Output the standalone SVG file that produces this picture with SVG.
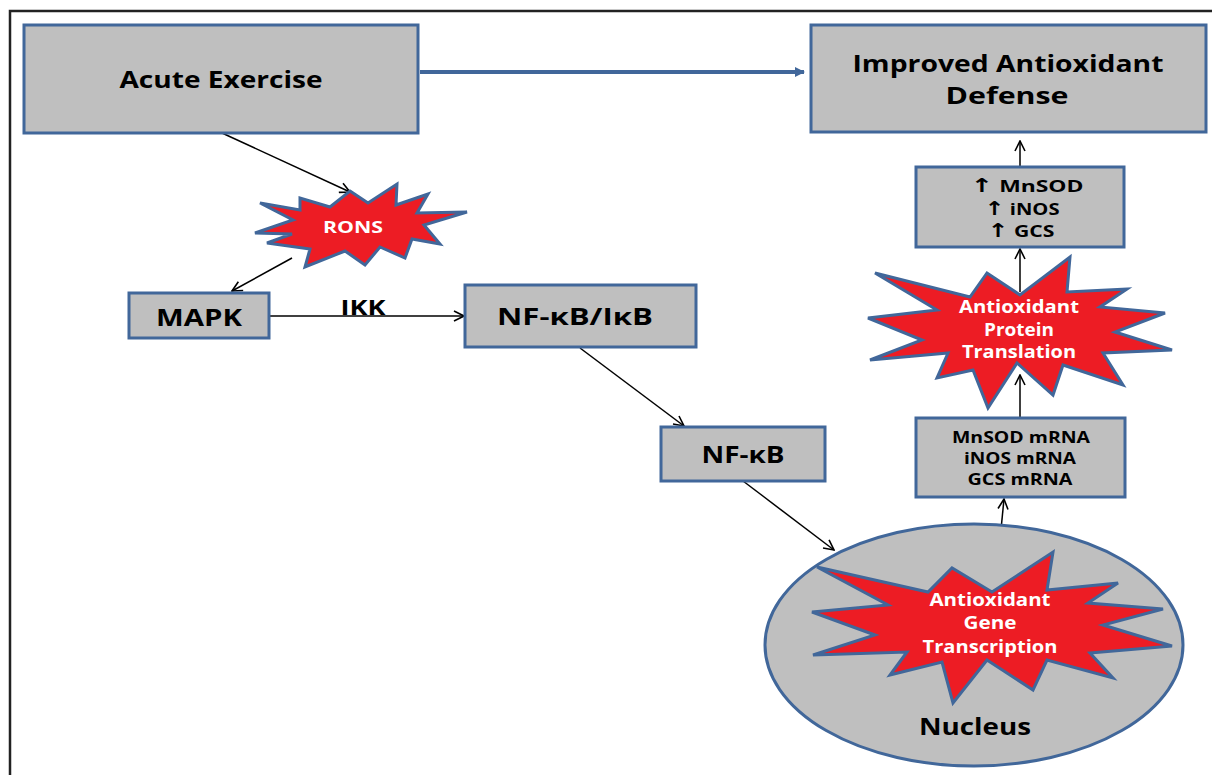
<svg xmlns="http://www.w3.org/2000/svg" width="1212" height="775" viewBox="0 0 1212 775">
<style>
.box{fill:#bfbfbf;stroke:#41679a;stroke-width:3}
.star{fill:#ed1c24;stroke:#41679a;stroke-width:3;stroke-linejoin:miter}
.t{font-family:"Open Sans","Liberation Sans",sans-serif;font-weight:bold;fill:#000;text-anchor:middle}
.w{font-family:"Open Sans","Liberation Sans",sans-serif;font-weight:bold;fill:#fff;text-anchor:middle}
.ar{font-family:"DejaVu Sans",sans-serif;font-weight:bold}
.c{stroke:#000;stroke-width:1.5;fill:none}
</style>
<defs>
<marker id="ah" viewBox="0 0 12 12" refX="11" refY="6" markerWidth="12" markerHeight="12" markerUnits="userSpaceOnUse" orient="auto">
<path d="M1,1 L11,6 L1,11" fill="none" stroke="#000" stroke-width="1.6"/>
</marker>
<marker id="bh" viewBox="0 0 10 10" refX="9" refY="5" markerWidth="10" markerHeight="10" markerUnits="userSpaceOnUse" orient="auto">
<path d="M0,0 L10,5 L0,10 Z" fill="#41679a"/>
</marker>
</defs>
<rect width="1212" height="775" fill="#fff"/>
<path d="M10,775 L10,11 L1212,11" fill="none" stroke="#222" stroke-width="2.5"/>

<g id="connectors">
<line x1="420" y1="72" x2="804" y2="72" stroke="#41679a" stroke-width="4" marker-end="url(#bh)"/>
<line class="c" x1="222" y1="133" x2="350" y2="192" marker-end="url(#ah)"/>
<line class="c" x1="292" y1="258" x2="232" y2="291" marker-end="url(#ah)"/>
<line class="c" x1="270" y1="316" x2="464" y2="316" marker-end="url(#ah)"/>
<line class="c" x1="580" y1="348" x2="684" y2="426" marker-end="url(#ah)"/>
<line class="c" x1="743" y1="481" x2="834" y2="550" marker-end="url(#ah)"/>
<line class="c" x1="998" y1="560" x2="1004" y2="499" marker-end="url(#ah)"/>
<line class="c" x1="1020" y1="418" x2="1020" y2="375" marker-end="url(#ah)"/>
<line class="c" x1="1020" y1="292" x2="1020" y2="249" marker-end="url(#ah)"/>
<line class="c" x1="1020" y1="167" x2="1020" y2="141" marker-end="url(#ah)"/>
</g>

<g id="acute-exercise">
<rect class="box" x="24" y="25" width="394" height="108"/>
<text class="t" x="221" y="88" font-size="23" textLength="203" lengthAdjust="spacingAndGlyphs">Acute Exercise</text>
</g>

<g id="improved-defense">
<rect class="box" x="811" y="25" width="395" height="107"/>
<text class="t" x="1008" y="72" font-size="23" textLength="311" lengthAdjust="spacingAndGlyphs">Improved Antioxidant</text>
<text class="t" x="1007" y="104" font-size="23" textLength="123" lengthAdjust="spacingAndGlyphs">Defense</text>
</g>

<g id="rons">
<polygon class="star" points="350,191 368,203 397,184 396,205 428,194 417,213 467,212 424,225 440,244 412,239 405,258 380,247 365,265 345,251 305,267 310,249 267,243 292,234 255,233 293,220 260,203 300,210 300,198 330,207"/>
<text class="w" x="353" y="233" font-size="16" textLength="60" lengthAdjust="spacingAndGlyphs">RONS</text>
</g>

<g id="mapk">
<rect class="box" x="129" y="293" width="140" height="45"/>
<text class="t" x="199" y="326" font-size="23" textLength="86" lengthAdjust="spacingAndGlyphs">MAPK</text>
</g>

<g id="ikk-label">
<text class="t" x="363" y="315" font-size="22" textLength="45" lengthAdjust="spacingAndGlyphs">IKK</text>
</g>

<g id="nfkb-ikb">
<rect class="box" x="465" y="285" width="231" height="62"/>
<text class="t" x="575" y="325" font-size="23" textLength="156" lengthAdjust="spacingAndGlyphs">NF-κB/IκB</text>
</g>

<g id="nfkb">
<rect class="box" x="661" y="427" width="164" height="54"/>
<text class="t" x="743" y="463" font-size="23" textLength="83" lengthAdjust="spacingAndGlyphs">NF-κB</text>
</g>

<g id="nucleus">
<ellipse cx="974" cy="645" rx="209" ry="121" fill="#bfbfbf" stroke="#41679a" stroke-width="3"/>
<polygon class="star" points="817,567 928,592 952,568 992,592 1053,552 1047,590 1118,583 1088,603 1163,609 1103,625 1172,646 1090,653 1113,678 1047,660 1033,690 987,660 953,703 942,662 890,675 907,652 813,655 875,635 812,612 888,605"/>
<text class="w" x="990" y="606" font-size="17" textLength="121" lengthAdjust="spacingAndGlyphs">Antioxidant</text>
<text class="w" x="990" y="629" font-size="17" textLength="53" lengthAdjust="spacingAndGlyphs">Gene</text>
<text class="w" x="990" y="653" font-size="17" textLength="135" lengthAdjust="spacingAndGlyphs">Transcription</text>
<text class="t" x="975" y="735" font-size="23" textLength="112" lengthAdjust="spacingAndGlyphs">Nucleus</text>
</g>

<g id="mrna">
<rect class="box" x="916" y="418" width="209" height="79"/>
<text class="t" x="1021" y="443" font-size="16" textLength="138" lengthAdjust="spacingAndGlyphs">MnSOD mRNA</text>
<text class="t" x="1020" y="464" font-size="16" textLength="112" lengthAdjust="spacingAndGlyphs">iNOS mRNA</text>
<text class="t" x="1020" y="485" font-size="16" textLength="105" lengthAdjust="spacingAndGlyphs">GCS mRNA</text>
</g>

<g id="translation">
<polygon class="star" points="875,273 970,297 987,273 1020,295 1070,257 1067,292 1127,289 1100,307 1165,313 1115,332 1172,350 1103,353 1123,385 1063,365 1053,395 1017,363 988,408 973,370 937,378 948,353 870,360 922,340 868,318 937,310"/>
<text class="w" x="1019" y="313" font-size="17" textLength="120" lengthAdjust="spacingAndGlyphs">Antioxidant</text>
<text class="w" x="1019" y="336" font-size="17" textLength="70" lengthAdjust="spacingAndGlyphs">Protein</text>
<text class="w" x="1019" y="358" font-size="17" textLength="114" lengthAdjust="spacingAndGlyphs">Translation</text>
</g>

<g id="enzymes">
<rect class="box" x="916" y="167" width="208" height="80"/>
<text class="t" x="1027" y="192" font-size="16" textLength="113" lengthAdjust="spacingAndGlyphs"><tspan class="ar" font-size="19">↑</tspan> MnSOD</text>
<text class="t" x="1022" y="215" font-size="16" textLength="75" lengthAdjust="spacingAndGlyphs"><tspan class="ar" font-size="19">↑</tspan>  iNOS</text>
<text class="t" x="1021" y="237" font-size="16" textLength="67" lengthAdjust="spacingAndGlyphs"><tspan class="ar" font-size="19">↑</tspan>  GCS</text>
</g>
</svg>
